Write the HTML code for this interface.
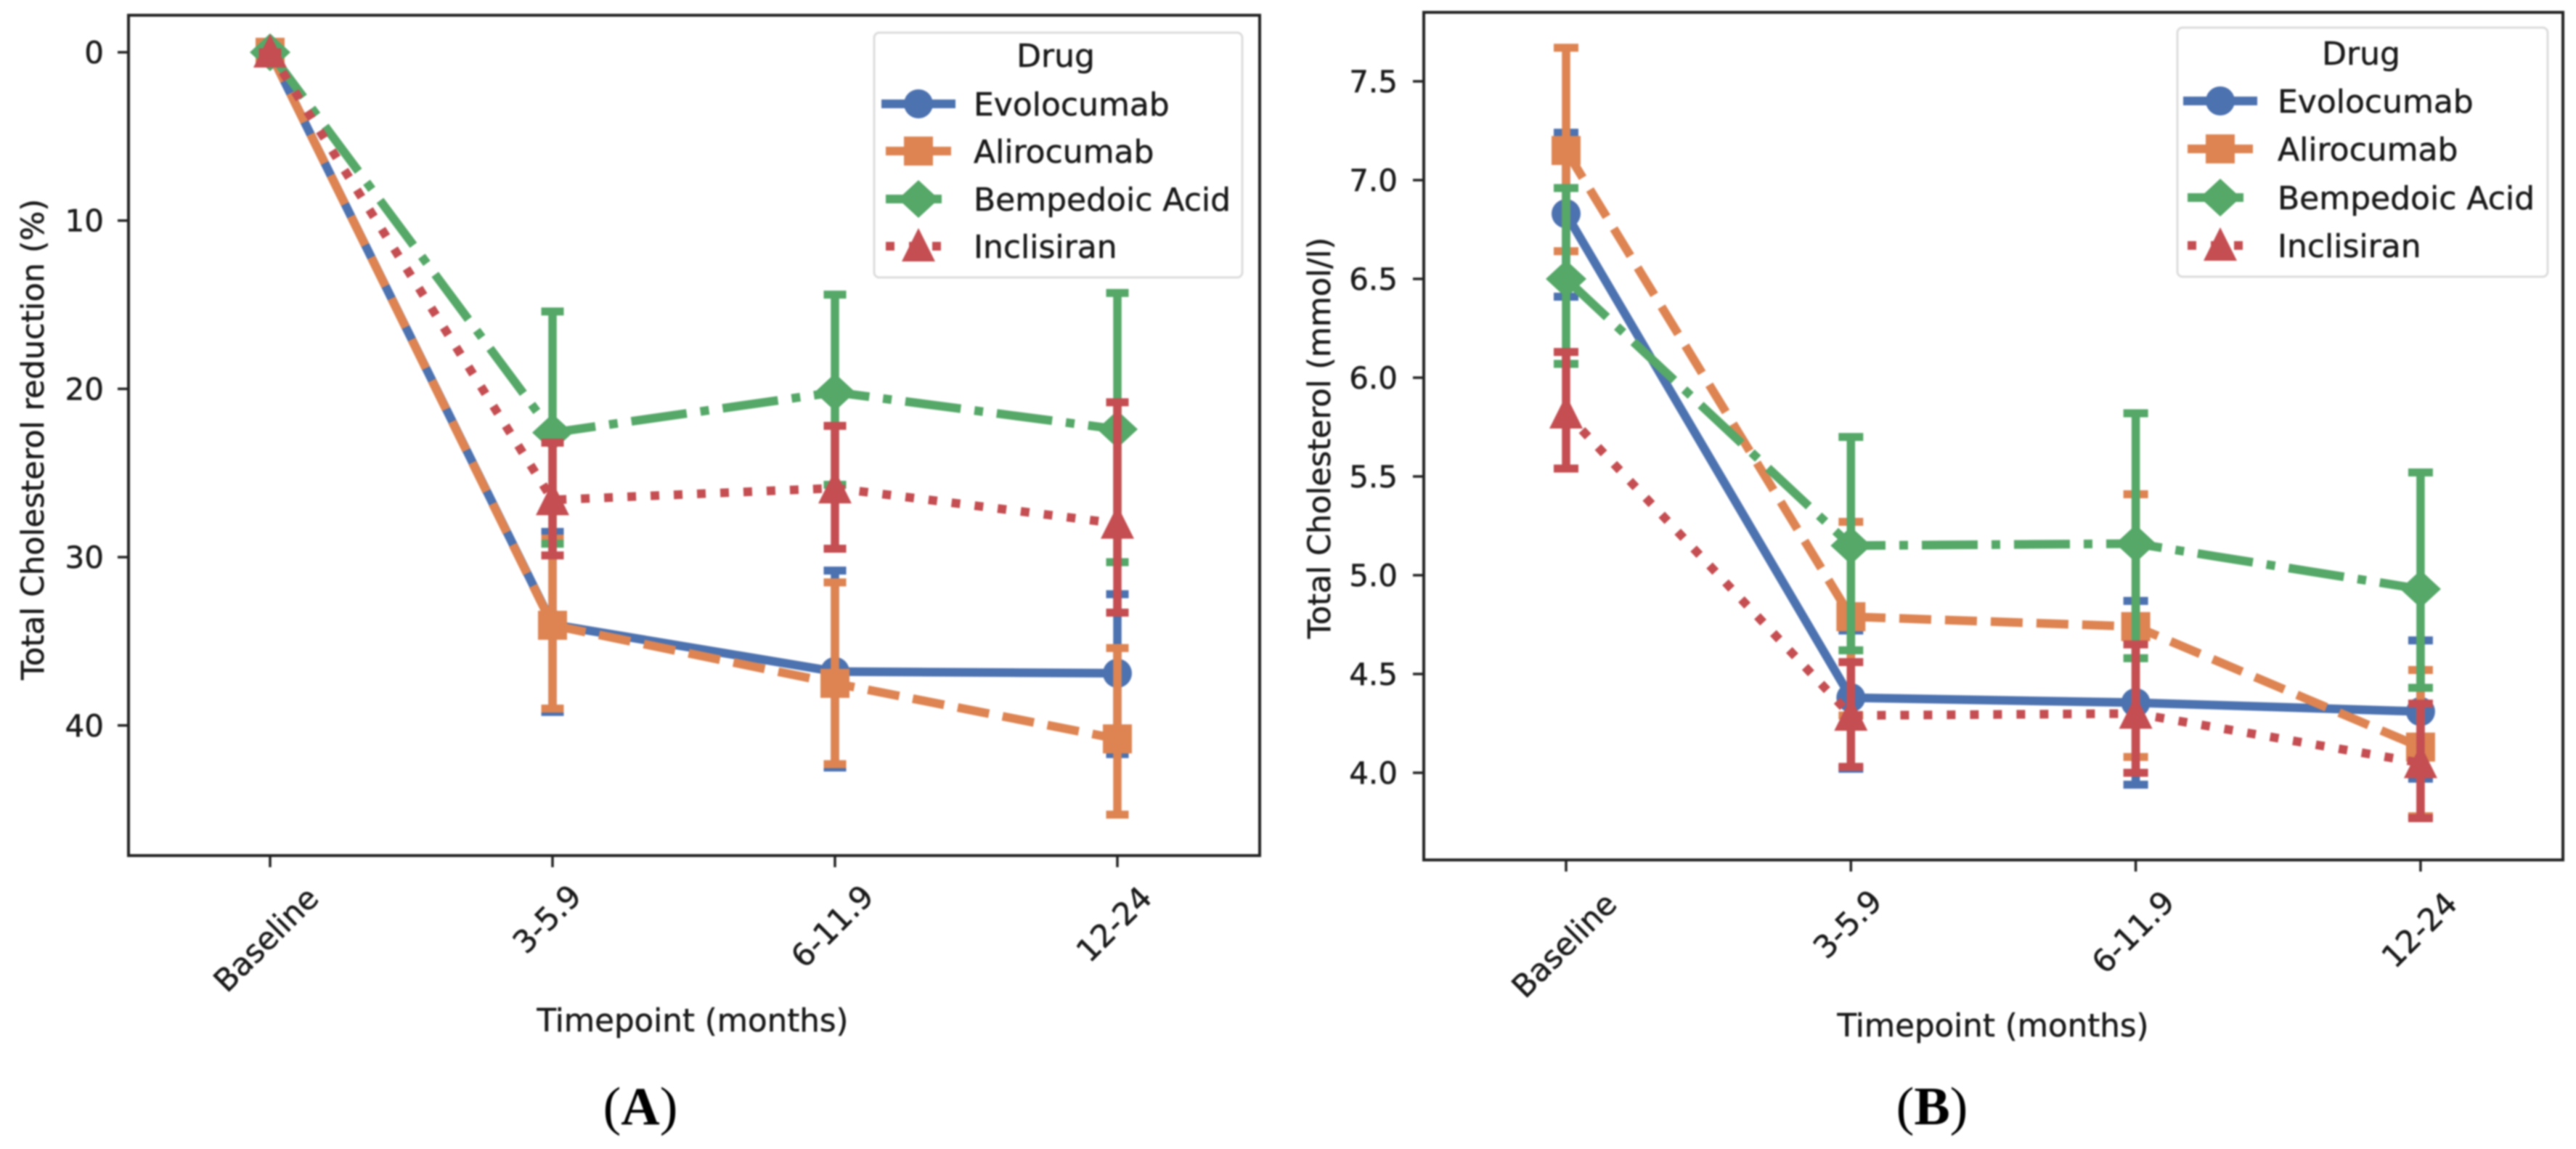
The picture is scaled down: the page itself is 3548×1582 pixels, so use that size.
<!DOCTYPE html>
<html lang="en">
<head>
<meta charset="utf-8">
<title>Total Cholesterol charts</title>
<style>
html,body{margin:0;padding:0;background:#fff;width:3548px;height:1582px;overflow:hidden}
svg{display:block;filter:blur(1.1px)}
text{font-family:"DejaVu Sans","Liberation Sans",sans-serif;fill:#1a1a1a;stroke:#1a1a1a;stroke-width:0.5px}
.cap{font-family:"Liberation Serif",serif;font-size:74px;fill:#000;stroke:none}
</style>
</head>
<body>
<svg id="root" xmlns="http://www.w3.org/2000/svg" width="3548" height="1582" viewBox="0 0 3548 1582">
  <rect width="3548" height="1582" fill="#fff"/>

  <g id="panelA">
    <g id="marksA"></g>
    <g id="axesA"></g>
    <rect x="177" y="21" width="1558" height="1157" fill="none" stroke="#222" stroke-width="4"/>
    <text font-size="43" text-anchor="middle" transform="translate(60,605) rotate(-90)">Total Cholesterol reduction (%)</text>
    <text font-size="43.5" text-anchor="middle" x="954" y="1420">Timepoint (months)</text>
    <rect x="1204" y="45" width="507" height="337" rx="7" fill="#fff" stroke="#dcdcdc" stroke-width="3"/>
    <text font-size="44" text-anchor="middle" x="1454" y="92">Drug</text>
    <g id="legendA"></g>
  </g>

  <g id="panelB">
    <g id="marksB"></g>
    <g id="axesB"></g>
    <rect x="1961" y="17" width="1569" height="1167" fill="none" stroke="#222" stroke-width="4"/>
    <text font-size="43" text-anchor="middle" transform="translate(1832,603) rotate(-90)">Total Cholesterol (mmol/l)</text>
    <text font-size="43.5" text-anchor="middle" x="2745" y="1427">Timepoint (months)</text>
    <rect x="2999" y="38" width="510" height="343" rx="7" fill="#fff" stroke="#dcdcdc" stroke-width="3"/>
    <text font-size="44" text-anchor="middle" x="3252" y="89">Drug</text>
    <g id="legendB"></g>
  </g>

  <text class="cap" x="882" y="1548" text-anchor="middle">(<tspan font-weight="bold">A</tspan>)</text>
  <text class="cap" x="2661" y="1548" text-anchor="middle">(<tspan font-weight="bold">B</tspan>)</text>
</svg>

<script>
// ---- shared categories ----
const categories = ["Baseline", "3-5.9", "6-11.9", "12-24"];
const drugs = ["Evolocumab", "Alirocumab", "Bempedoic Acid", "Inclisiran"];

// ---- Panel A : Total cholesterol reduction (%) ----
const ticksA = [0, 10, 20, 30, 40];
const evolocumabA = [0, 34.0, 36.8, 36.9];
const evolocumabLowA = [0, 28.5, 30.8, 32.2];
const evolocumabHighA = [0, 39.2, 42.5, 41.7];
const alirocumabA = [0, 34.05, 37.5, 40.8];
const alirocumabLowA = [0, 28.9, 31.5, 35.4];
const alirocumabHighA = [0, 39.0, 42.3, 45.3];
const bempedoicA = [0, 22.6, 20.2, 22.4];
const bempedoicLowA = [0, 15.4, 14.4, 14.3];
const bempedoicHighA = [0, 29.2, 25.7, 30.3];
const inclisiranA = [0, 26.6, 25.9, 28.0];
const inclisiranLowA = [0, 23.2, 22.2, 20.8];
const inclisiranHighA = [0, 29.9, 29.5, 33.3];

// ---- Panel B : Total cholesterol (mmol/l) ----
const ticksB = [4.0, 4.5, 5.0, 5.5, 6.0, 6.5, 7.0, 7.5];
const evolocumabB = [6.83, 4.38, 4.355, 4.31];
const evolocumabLowB = [6.41, 4.02, 3.94, 3.97];
const evolocumabHighB = [7.24, 4.72, 4.87, 4.67];
const alirocumabB = [7.15, 4.79, 4.74, 4.13];
const alirocumabLowB = [6.64, 4.29, 4.08, 3.78];
const alirocumabHighB = [7.67, 5.27, 5.41, 4.52];
const bempedoicB = [6.5, 5.15, 5.16, 4.93];
const bempedoicLowB = [6.07, 4.62, 4.58, 4.43];
const bempedoicHighB = [6.96, 5.70, 5.82, 5.52];
const inclisiranB = [5.82, 4.29, 4.30, 4.05];
const inclisiranLowB = [5.54, 4.03, 4.00, 3.77];
const inclisiranHighB = [6.13, 4.56, 4.65, 4.35];

// ---- axis functions ----
function xA(i) { return 372 + i * 389; }
function yA(v) { return 72 + v * 23.17; }
function xB(i) { return 2157 + i * 392.3; }
function yB(v) { return 1064 - (v - 4) * 272; }

const NS = "http://www.w3.org/2000/svg";
const colors = ["#4c72b0", "#dd8452", "#55a868", "#c44e52"];
const dashes = ["none", "44 19", "77 19 12 19", "12 20"];
const kinds = ["circle", "square", "diamond", "triangle"];
const LW = 12;

function shape(tag, props, parent) {
  const el = document.createElementNS(NS, tag);
  for (const k in props) el.setAttribute(k, props[k]);
  parent.appendChild(el);
  return el;
}

function drawMarker(parent, kind, cx, cy, color, name) {
  let el;
  if (kind === "circle") {
    el = shape("circle", { cx: cx, cy: cy, r: 20, fill: color }, parent);
  } else if (kind === "square") {
    el = shape("rect", { x: cx - 20, y: cy - 20, width: 40, height: 40, fill: color }, parent);
  } else if (kind === "diamond") {
    el = shape("polygon", { points: [cx - 28, cy, cx, cy - 26, cx + 28, cy, cx, cy + 26].join(","), fill: color }, parent);
  } else {
    el = shape("polygon", { points: [cx, cy - 25, cx + 23, cy + 21, cx - 23, cy + 21].join(","), fill: color }, parent);
  }
  
  
}

function drawSeries(parent, idx, slug, xf, yf, means, lows, highs, capW) {
  const g = shape("g", {}, parent);
  
  

  const pts = means.map(function (m, i) { return xf(i) + "," + yf(m); }).join(" ");
  const line = shape("polyline", { points: pts, fill: "none", stroke: colors[idx], "stroke-width": LW, "stroke-dasharray": dashes[idx], "stroke-linejoin": "round" }, g);
  
  

  means.forEach(function (m, i) {
    drawMarker(g, kinds[idx], xf(i), yf(m), colors[idx], slug + '-point-' + i);
    const x = xf(i);
    const bar = shape("line", { x1: x, x2: x, y1: yf(lows[i]), y2: yf(highs[i]), stroke: colors[idx], "stroke-width": 11.5 }, g);
    
    
    [lows[i], highs[i]].forEach(function (v) {
      const cap = shape("line", { x1: x - capW / 2, x2: x + capW / 2, y1: yf(v), y2: yf(v), stroke: colors[idx], "stroke-width": 11 }, g);
      
      
    });
  });
}

function drawAxes(parent, xf, yf, ticks, digits, labelRight, frameLeft, frameBottom, labelCenters) {
  ticks.forEach(function (v) {
    const y = yf(v);
    const t = shape("line", { x1: frameLeft - 15, x2: frameLeft, y1: y, y2: y, stroke: "#222", "stroke-width": 3.5 }, parent);
    
    
    const lab = shape("text", { x: labelRight, y: y + 15, "font-size": 42, "text-anchor": "end" }, parent);
    lab.textContent = v.toFixed(digits);
    
    
  });
  categories.forEach(function (c, i) {
    const x = xf(i);
    const t = shape("line", { x1: x, x2: x, y1: frameBottom, y2: frameBottom + 16, stroke: "#222", "stroke-width": 3.5 }, parent);
    
    
    const lc = labelCenters[i];
    const lab = shape("text", { "font-size": 43, "text-anchor": "middle", "dominant-baseline": "central", transform: "translate(" + (x + lc[0]) + "," + lc[1] + ") rotate(-45)" }, parent);
    lab.textContent = c;
    
    
  });
}

function drawLegend(parent, textX, handleStart, handleEnd, rowYs, slugSuffix) {
  drugs.forEach(function (d, i) {
    const y = rowYs[i];
    const g = shape("g", {}, parent);
    
    
    const line = shape("line", { x1: handleStart, x2: handleEnd, y1: y, y2: y, stroke: colors[i], "stroke-width": LW, "stroke-dasharray": dashes[i], "stroke-linecap": i === 0 ? "square" : "butt" }, g);
    
    
    drawMarker(g, kinds[i], (handleStart + handleEnd) / 2, y, colors[i], 'legend-marker');
    const t = shape("text", { x: textX, y: y + 16, "font-size": 44 }, g);
    t.textContent = d;
    
    
  });
}

// ---- Panel A ----
const marksA = document.getElementById("marksA");
drawSeries(marksA, 0, "evolocumab-a", xA, yA, evolocumabA, evolocumabLowA, evolocumabHighA, 31);
drawSeries(marksA, 1, "alirocumab-a", xA, yA, alirocumabA, alirocumabLowA, alirocumabHighA, 31);
drawSeries(marksA, 2, "bempedoic-a", xA, yA, bempedoicA, bempedoicLowA, bempedoicHighA, 31);
drawSeries(marksA, 3, "inclisiran-a", xA, yA, inclisiranA, inclisiranLowA, inclisiranHighA, 31);
drawAxes(document.getElementById("axesA"), xA, yA, ticksA, 0, 143, 177, 1178,
  [[-5, 1294], [-7, 1266], [-3, 1276], [-4, 1273]]);
drawLegend(document.getElementById("legendA"), 1341, 1220, 1310, [143, 208, 274, 339], "a");

// ---- Panel B ----
const marksB = document.getElementById("marksB");
drawSeries(marksB, 0, "evolocumab-b", xB, yB, evolocumabB, evolocumabLowB, evolocumabHighB, 34);
drawSeries(marksB, 1, "alirocumab-b", xB, yB, alirocumabB, alirocumabLowB, alirocumabHighB, 34);
drawSeries(marksB, 2, "bempedoic-b", xB, yB, bempedoicB, bempedoicLowB, bempedoicHighB, 34);
drawSeries(marksB, 3, "inclisiran-b", xB, yB, inclisiranB, inclisiranLowB, inclisiranHighB, 34);
drawAxes(document.getElementById("axesB"), xB, yB, ticksB, 1, 1925, 1961, 1184,
  [[-2, 1302], [-4, 1273], [-3, 1284], [-1, 1281]]);
drawLegend(document.getElementById("legendB"), 3137, 3013, 3103, [139, 205, 272, 338], "b");
</script>
</body>
</html>
